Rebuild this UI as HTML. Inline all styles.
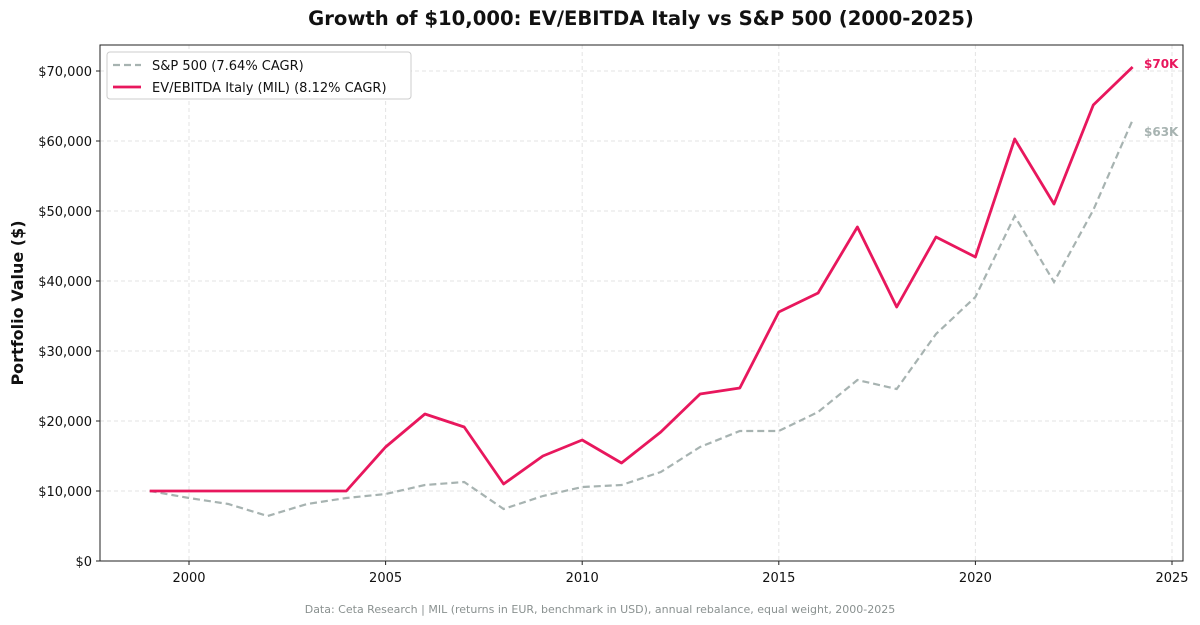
<!DOCTYPE html>
<html><head><meta charset="utf-8"><style>
body{margin:0;background:#fff}
svg{display:block;font-family:"DejaVu Sans","Liberation Sans",sans-serif}
</style></head><body>
<svg width="1200" height="625" viewBox="0 0 1200 625" xmlns="http://www.w3.org/2000/svg">
<rect width="1200" height="625" fill="#fff"/>
<text x="641" y="25" text-anchor="middle" font-size="19.6" font-weight="bold" fill="#111">Growth of $10,000: EV/EBITDA Italy vs S&amp;P 500 (2000-2025)</text>
<g stroke="#e3e3e3" stroke-dasharray="4,3" stroke-width="1">
<line x1="100" x2="1183" y1="491" y2="491"/><line x1="100" x2="1183" y1="421" y2="421"/>
<line x1="100" x2="1183" y1="351" y2="351"/><line x1="100" x2="1183" y1="281" y2="281"/>
<line x1="100" x2="1183" y1="211" y2="211"/><line x1="100" x2="1183" y1="141" y2="141"/>
<line x1="100" x2="1183" y1="71" y2="71"/>
<line x1="189" x2="189" y1="45" y2="561"/><line x1="385.6" x2="385.6" y1="45" y2="561"/>
<line x1="582.2" x2="582.2" y1="45" y2="561"/><line x1="778.8" x2="778.8" y1="45" y2="561"/>
<line x1="975.4" x2="975.4" y1="45" y2="561"/><line x1="1172" x2="1172" y1="45" y2="561"/>
</g>
<rect x="100" y="45" width="1083" height="516" fill="none" stroke="#222" stroke-width="1"/>
<g font-size="13" fill="#111" text-anchor="end">
<text x="92" y="566">$0</text><text x="92" y="496">$10,000</text><text x="92" y="426">$20,000</text>
<text x="92" y="356">$30,000</text><text x="92" y="286">$40,000</text><text x="92" y="216">$50,000</text>
<text x="92" y="146">$60,000</text><text x="92" y="76">$70,000</text>
</g>
<g stroke="#222"><line x1="96" x2="100" y1="561" y2="561"/><line x1="96" x2="100" y1="491" y2="491"/><line x1="96" x2="100" y1="421" y2="421"/><line x1="96" x2="100" y1="351" y2="351"/><line x1="96" x2="100" y1="281" y2="281"/><line x1="96" x2="100" y1="211" y2="211"/><line x1="96" x2="100" y1="141" y2="141"/><line x1="96" x2="100" y1="71" y2="71"/>
<line x1="189" x2="189" y1="561" y2="565"/><line x1="385.6" x2="385.6" y1="561" y2="565"/><line x1="582.2" x2="582.2" y1="561" y2="565"/><line x1="778.8" x2="778.8" y1="561" y2="565"/><line x1="975.4" x2="975.4" y1="561" y2="565"/><line x1="1172" x2="1172" y1="561" y2="565"/></g>
<g font-size="13" fill="#111" text-anchor="middle">
<text x="189" y="582">2000</text><text x="385.6" y="582">2005</text><text x="582.2" y="582">2010</text>
<text x="778.8" y="582">2015</text><text x="975.4" y="582">2020</text><text x="1172" y="582">2025</text>
</g>
<text transform="translate(23,303) rotate(-90)" text-anchor="middle" font-size="16" font-weight="bold" fill="#111">Portfolio Value ($)</text>
<polyline fill="none" stroke="#a7b3b1" stroke-width="2.2" stroke-dasharray="7,4" points="149.7,491 189,498 228.3,504 267.6,516 307,504 346.3,498 385.6,494 424.9,485 464.2,482 503.6,509 542.9,496 582.2,487 621.5,485 660.8,472 700.1,447 739.8,431 778.8,431 818.1,412 857.4,380 896.7,389 936,334 975.4,297 1014.7,216 1054,282 1093.3,210 1132.6,120"/>
<polyline fill="none" stroke="#e8175d" stroke-width="2.8" stroke-linejoin="round" points="149.7,491 189,491 228.3,491 267.6,491 307,491 346.3,491 385.6,447 424.9,414 464.2,427 503.6,484 542.9,456 582.2,440 621.5,463 660.8,432 700.1,394 739.8,388 778.8,312 818.1,293 857.4,227 896.7,307 936,237 975.4,257 1014.7,139 1054,204 1093.3,105 1132.6,67"/>
<text x="1144" y="68" font-size="12" font-weight="bold" fill="#e8175d">$70K</text>
<text x="1144" y="136" font-size="12" font-weight="bold" fill="#a7b3b1">$63K</text>
<rect x="107" y="52" width="304" height="47" rx="3" fill="#fff" stroke="#ccc"/>
<line x1="113" x2="141" y1="65" y2="65" stroke="#a7b3b1" stroke-width="2.2" stroke-dasharray="7,4"/>
<text x="152" y="70" font-size="13" fill="#111">S&amp;P 500 (7.64% CAGR)</text>
<line x1="113" x2="141" y1="87" y2="87" stroke="#e8175d" stroke-width="2.8"/>
<text x="152" y="92" font-size="13" fill="#111">EV/EBITDA Italy (MIL) (8.12% CAGR)</text>
<text x="600" y="613" text-anchor="middle" font-size="11" fill="#8a9190">Data: Ceta Research | MIL (returns in EUR, benchmark in USD), annual rebalance, equal weight, 2000-2025</text>
</svg>
</body></html>
